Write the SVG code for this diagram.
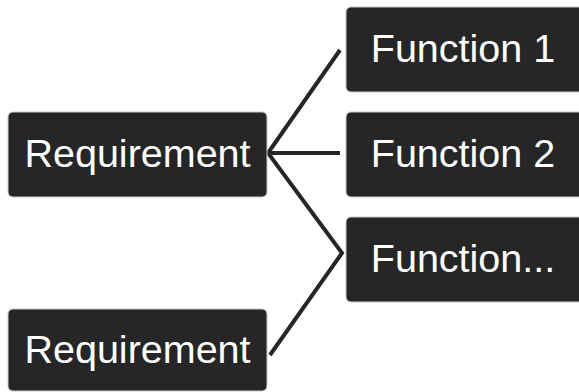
<svg xmlns="http://www.w3.org/2000/svg" width="579" height="392" viewBox="0 0 579 392">
<style>
.box{fill:#262626;stroke:#c8c8c8;stroke-width:1}
.t{fill:#ffffff;font-family:"Liberation Sans",Arial,sans-serif;font-size:39.5px;text-anchor:middle}
.c{fill:none;stroke:#262626;stroke-width:4;stroke-linejoin:miter;stroke-miterlimit:10}
</style>
<rect width="579" height="392" fill="#ffffff"/>
<g id="connectors">
<path class="c" d="M340,50 L268,153 L342,253 L270,355"/>
<path class="c" d="M268,153 H340"/>
</g>
<g id="req1"><rect class="box" x="8" y="112" width="259" height="85" rx="5"/><text class="t" x="137.5" y="167">Requirement</text></g>
<g id="req2"><rect class="box" x="8" y="309" width="259" height="82" rx="5"/><text class="t" x="137.5" y="362.5">Requirement</text></g>
<g id="f1"><rect class="box" x="346" y="7" width="240" height="85" rx="5"/><text class="t" x="463" y="62">Function 1</text></g>
<g id="f2"><rect class="box" x="346" y="112" width="240" height="85" rx="5"/><text class="t" x="463" y="167">Function 2</text></g>
<g id="f3"><rect class="box" x="346" y="217" width="240" height="85" rx="5"/><text class="t" x="463" y="272">Function...</text></g>
</svg>
